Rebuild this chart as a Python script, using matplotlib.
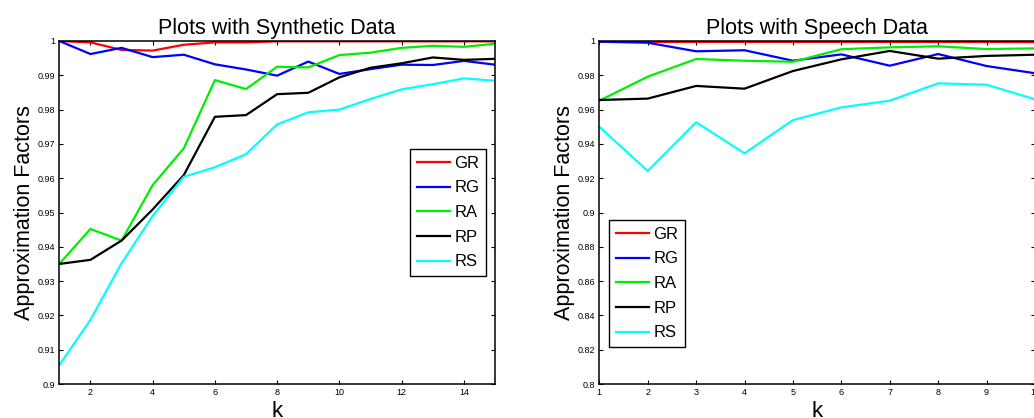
import matplotlib
matplotlib.use("Agg")
import matplotlib.pyplot as plt
import numpy as np

plt.rcParams['font.family'] = ['Liberation Sans', 'DejaVu Sans']

# synthetic data, k = 1..15
k_syn = np.arange(1, 16)
syn_gr = [1.0, 0.9996, 0.9974, 0.9972, 0.9989, 0.9996, 0.9996, 0.9999, 0.9999, 0.9999, 0.9999, 0.9999, 0.9999, 0.9999, 0.9999]
syn_rg = [1.0, 0.9962, 0.9980, 0.9953, 0.9960, 0.9932, 0.9917, 0.9899, 0.9940, 0.9904, 0.9918, 0.9931, 0.9930, 0.9942, 0.9931]
syn_ra = [0.9350, 0.9452, 0.9418, 0.9580, 0.9687, 0.9886, 0.9860, 0.9925, 0.9923, 0.9959, 0.9966, 0.9980, 0.9986, 0.9983, 0.9992]
syn_rp = [0.9350, 0.9362, 0.9418, 0.9509, 0.9609, 0.9779, 0.9784, 0.9845, 0.9849, 0.9894, 0.9922, 0.9935, 0.9952, 0.9945, 0.9948]
syn_rs = [0.9055, 0.9187, 0.9352, 0.9490, 0.9604, 0.9632, 0.9670, 0.9757, 0.9792, 0.9800, 0.9831, 0.9859, 0.9874, 0.9891, 0.9884]

# speech data, k = 1..10
k_sp = np.arange(1, 11)
sp_gr = [0.9996, 0.9995, 0.9995, 0.9995, 0.9995, 0.9995, 0.9995, 0.9995, 0.9995, 0.9994]
sp_rg = [0.9996, 0.9990, 0.9940, 0.9946, 0.9885, 0.9922, 0.9856, 0.9924, 0.9854, 0.9812]
sp_ra = [0.9652, 0.9792, 0.9895, 0.9885, 0.9879, 0.9952, 0.9963, 0.9969, 0.9953, 0.9957]
sp_rp = [0.9656, 0.9664, 0.9738, 0.9722, 0.9825, 0.9893, 0.9942, 0.9897, 0.9913, 0.9920]
sp_rs = [0.9500, 0.9242, 0.9526, 0.9345, 0.9539, 0.9613, 0.9652, 0.9753, 0.9745, 0.9660]

names = ['GR', 'RG', 'RA', 'RP', 'RS']
colors = ['#ff0000', '#0000ff', '#00ee00', '#000000', '#00ffff']

W, H = 1034, 418
fig = plt.figure(figsize=(W / 100, H / 100), dpi=100)
ax1 = fig.add_axes([59.3 / W, 1 - 384 / H, (495 - 59.3) / W, (384 - 41) / H])
ax2 = fig.add_axes([599.3 / W, 1 - 384 / H, (1035 - 599.3) / W, (384 - 41) / H])


def draw(ax, k, series, title, xlim, ylim, xticks, yticks, ylabels, legend_loc, anchor):
    for ys, c, n in zip(series, colors, names):
        ax.plot(k, ys, color=c, lw=1.6, label=n)
    ax.set_xlim(*xlim)
    ax.set_ylim(*ylim)
    ax.set_xticks(xticks)
    ax.set_yticks(yticks)
    ax.set_yticklabels(ylabels)
    ax.tick_params(direction='in', top=True, right=True, labelsize=6.5,
                   length=3, width=0.8, pad=3)
    for s in ax.spines.values():
        s.set_linewidth(1.1)
    ax.set_title(title, fontsize=15.5, pad=5)
    ax.set_xlabel('k', fontsize=16, labelpad=3)
    ax.set_ylabel('Approximation Factors', fontsize=15.5, labelpad=2)
    leg = ax.legend(loc=legend_loc, bbox_to_anchor=anchor, fontsize=12,
                    handlelength=2.0, handletextpad=0.25, borderpad=0.4,
                    labelspacing=0.58, fancybox=False, framealpha=1,
                    edgecolor='black', borderaxespad=0)
    leg.get_frame().set_linewidth(1.0)


draw(ax1, k_syn, [syn_gr, syn_rg, syn_ra, syn_rp, syn_rs], 'Plots with Synthetic Data',
     (1, 15), (0.9, 1.0), [2, 4, 6, 8, 10, 12, 14], np.linspace(0.9, 1.0, 11),
     ['0.9', '0.91', '0.92', '0.93', '0.94', '0.95', '0.96', '0.97', '0.98', '0.99', '1'],
     'upper right', (0.979, 0.685))
draw(ax2, k_sp, [sp_gr, sp_rg, sp_ra, sp_rp, sp_rs], 'Plots with Speech Data',
     (1, 10), (0.8, 1.0), list(range(1, 11)), np.linspace(0.8, 1.0, 11),
     ['0.8', '0.82', '0.84', '0.86', '0.88', '0.9', '0.92', '0.94', '0.96', '0.98', '1'],
     'upper left', (0.0223, 0.478))

fig.savefig('out.png', dpi=100)
